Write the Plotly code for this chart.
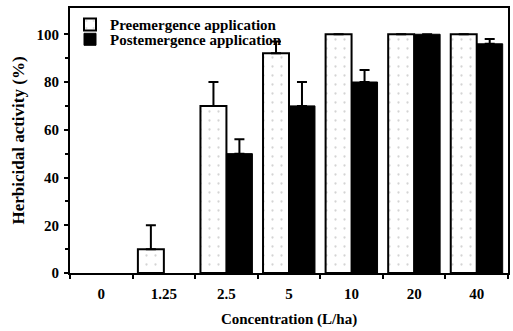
import plotly.graph_objects as go

categories = ["0", "1.25", "2.5", "5", "10", "20", "40"]
pre_values = [0, 10, 70, 92, 100, 100, 100]
pre_errors = [0, 10, 10, 5, 0, 0, 0]
post_values = [0, 0, 50, 70, 80, 100, 96]
post_errors = [0, 0, 6, 10, 5, 0, 2]
y_ticks = [0, 20, 40, 60, 80, 100]

font_family = "Times New Roman, Liberation Serif, serif"

fig = go.Figure()
fig.add_trace(go.Bar(
    x=categories, y=[v if v else None for v in pre_values], name="<b>Preemergence application</b>",
    legend="legend",
    marker=dict(color="white", line=dict(color="black", width=2),
                pattern=dict(shape=".", size=9, solidity=0.05, fgcolor="#aaaaaa", bgcolor="white")),
    error_y=dict(type="data", symmetric=False, array=pre_errors,
                 arrayminus=[0]*len(pre_errors), color="black", thickness=2, width=5),
))
fig.add_trace(go.Bar(
    x=categories, y=[v if v else None for v in post_values], name="<b>Postemergence application</b>",
    legend="legend2",
    marker=dict(color="black", line=dict(color="black", width=1)),
    error_y=dict(type="data", symmetric=False, array=post_errors,
                 arrayminus=[0]*len(post_errors), color="black", thickness=2, width=5),
))

legend_common = dict(x=0.0, xanchor="left", yanchor="middle", bgcolor="rgba(0,0,0,0)",
                     font=dict(size=15, family=font_family, color="black"), itemwidth=30,
                     tracegroupgap=0)

fig.update_layout(
    width=513, height=331,
    margin=dict(l=70, r=3, t=8, b=58),
    plot_bgcolor="white", paper_bgcolor="white",
    barmode="group", bargap=0.17, bargroupgap=0,
    font=dict(family=font_family, color="black", size=15),
    showlegend=True,
    legend=dict(y=0.937, **legend_common),
    legend2=dict(y=0.881, **legend_common),
    xaxis=dict(
        title=dict(text="<b>Concentration (L/ha)</b>", font=dict(size=15, family=font_family), standoff=12),
        showline=True, linecolor="black", linewidth=2, mirror=True,
        ticks="outside", tickson="boundaries", ticklen=4, tickwidth=2, tickcolor="black",
        tickfont=dict(size=15, family=font_family), showgrid=False, ticklabelstandoff=6,
        tickvals=categories, ticktext=["<b>%s</b>" % c for c in categories],
    ),
    yaxis=dict(
        title=dict(text="<b>Herbicidal activity (%)</b>", font=dict(size=17, family=font_family), standoff=8),
        range=[0, 111], showline=True, linecolor="black", linewidth=2, mirror=True,
        ticks="outside", ticklen=4, tickwidth=2, tickcolor="black",
        tickvals=y_ticks, ticktext=["<b>%d</b>" % v for v in y_ticks],
        tickfont=dict(size=15, family=font_family), showgrid=False, zeroline=False,
        ticklabelstandoff=2,
        minor=dict(tickvals=[10, 30, 50, 70, 90], ticks="outside", ticklen=3, tickwidth=2, tickcolor="black"),
    ),
)

fig.write_html("out.html")
